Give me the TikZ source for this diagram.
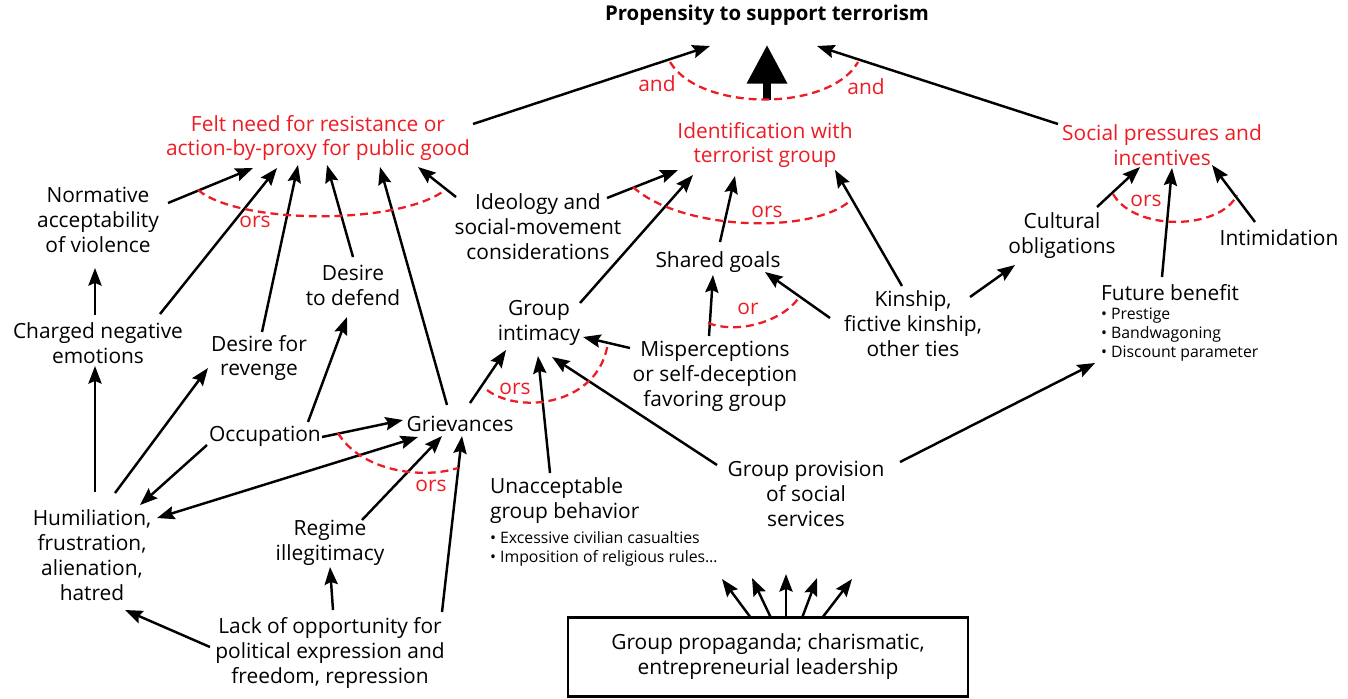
\documentclass[tikz,border=0pt]{standalone}
\usepackage{fontspec}
\setmainfont{Open Sans}
\usetikzlibrary{arrows.meta}
\usetikzlibrary{calc}
\usetikzlibrary{positioning}
\definecolor{factorred}{RGB}{237,28,36}
\tikzset{
  >={Stealth[length=10pt,width=7.5pt,inset=1.5pt]},
  txt/.style={align=center, inner sep=1pt, font=\fontsize{11.9}{14.2}\selectfont},
  factor/.style={txt, text=factorred},
  title/.style={txt, font=\fontsize{11.6}{14.2}\selectfont\bfseries},
  notes/.style={align=left, inner sep=1pt, font=\fontsize{9}{10.8}\selectfont},
  arr/.style={->, line width=1.4pt},
  bigarr/.style={-{Triangle[length=22pt,width=22pt]}, line width=4.5pt},
  orsarc/.style={factorred, line width=1.3pt, dash pattern=on 4.5pt off 2.8pt},
  orslabel/.style={txt, text=factorred, inner sep=0pt},
  propbox/.style={txt, draw, line width=1.2pt, minimum width=8cm, minimum height=1.58cm}
}
\begin{document}
\begin{tikzpicture}[x=0.02cm,y=-0.02cm]
\useasboundingbox (0,0) rectangle (1348,698);
%% outcome and the three factors
\node[title] (top) at (767,15) {Propensity to support terrorism};
\node[factor] (felt) at (318,138) {Felt need for resistance or\\action-by-proxy for public good};
\node[factor] (ident) at (765,145) {Identification with\\terrorist group};
\node[factor] (social) at (1162,145) {Social pressures and\\incentives};
%% upper row
\node[txt] (norm) at (98,220) {Normative\\acceptability\\of violence};
\node[txt] (ideol) at (538,227) {Ideology and\\social-movement\\considerations};
\node[txt] (shared) at (718,262) {Shared goals};
\node[txt] (cultural) at (1062,236) {Cultural\\obligations};
\node[txt] (intim) at (1279,238) {Intimidation};
\node[txt] (desdef) at (353,285) {Desire\\to defend};
\node[txt] (kinship) at (913,324) {Kinship,\\fictive kinship,\\other ties};
\node[txt, anchor=west] (future) at (1099,293) {Future benefit};
\node[notes, anchor=north west] (futurenotes) at ($(future.south west)+(0,3)$) {• Prestige\\• Bandwagoning\\• Discount parameter};
%% middle row
\node[txt] (charged) at (98,343) {Charged negative\\emotions};
\node[txt] (desrev) at (259,358) {Desire for\\revenge};
\node[txt] (gint) at (539,323) {Group\\intimacy};
\node[txt] (misp) at (715,376) {Misperceptions\\or self-deception\\favoring group};
\node[txt] (occ) at (265,436) {Occupation};
\node[txt] (griev) at (460,424) {Grievances};
\node[txt] (gprov) at (806,494) {Group provision\\of social\\services};
\node[txt, align=left, anchor=west] (unacc) at (488,501) {Unacceptable\\group behavior};
\node[notes, anchor=north west] (unaccnotes) at ($(unacc.south west)+(0,3)$) {• Excessive civilian casualties\\• Imposition of religious rules…};
%% lower row
\node[txt] (humil) at (92,555) {Humiliation,\\frustration,\\alienation,\\hatred};
\node[txt] (regime) at (330,543) {Regime\\illegitimacy};
\node[txt] (lack) at (330,653) {Lack of opportunity for\\political expression and\\freedom, repression};
\node[propbox] (prop) at (768,657) {Group propaganda; charismatic,\\entrepreneurial leadership};

%% into the outcome
\draw[arr] ($(felt)+(155,-14)$) -- ($(top)+(-57,31)$);
\draw[bigarr] ($(ident)+(2,-45)$) -- ($(top)+(0,30)$);
\draw[arr] ($(social)+(-104,-21)$) -- ($(top)+(50,31)$);
\draw[orsarc] (670,62) .. controls (700,112) and (830,112) .. (858,62);
\node[orslabel] (and1) at (657,84) {and};
\node[orslabel] (and2) at (866,87) {and};

%% into the felt need
\draw[arr] ($(norm)+(70,-17)$) -- ($(felt)+(-65,30)$);
\draw[arr] ($(charged)+(62,-29)$) -- ($(felt)+(-41,30)$);
\draw[arr] ($(desrev)+(3,-26)$) -- ($(felt)+(-20,27)$);
\draw[arr] ($(desdef)+(0,-28)$) -- ($(felt)+(9,27)$);
\draw[arr] ($(griev)+(-13,-19)$) -- ($(felt)+(62,29)$);
\draw[arr] ($(ideol)+(-82,-30)$) -- ($(felt)+(100,29)$);
\draw[orsarc] (198,190) .. controls (240,225) and (400,225) .. (445,190);
\node[orslabel] (ors1) at (255,222) {ors};

%% into the identification
\draw[arr] ($(ideol)+(69,-29)$) -- ($(ident)+(-87,25)$);
\draw[arr] ($(gint)+(41,-20)$) -- ($(ident)+(-72,30)$);
\draw[arr] ($(shared)+(2,-20)$) -- ($(ident)+(-30,31)$);
\draw[arr] ($(kinship)+(-11,-38)$) -- ($(ident)+(70,25)$);
\draw[orsarc] (633,187) .. controls (680,230) and (810,235) .. (850,201);
\node[orslabel] (ors2) at (767,212) {ors};

%% into the social pressures
\draw[arr] ($(cultural)+(35,-29)$) -- ($(social)+(-22,22)$);
\draw[arr] ($(future.west)+(63,-16)$) -- ($(social)+(10,23)$);
\draw[arr] ($(intim)+(-24,-16)$) -- ($(social)+(50,20)$);
\draw[orsarc] (1113,194) .. controls (1135,232) and (1220,230) .. (1237,195);
\node[orslabel] (ors3) at (1146,201) {ors};

%% shared goals, kinship
\draw[arr] ($(misp)+(-6,-40)$) -- ($(shared)+(-5,13)$);
\draw[arr] ($(kinship)+(-83,-6)$) -- ($(shared)+(47,10)$);
\draw[orsarc] (708,323) .. controls (740,335) and (785,320) .. (800,296);
\node[orslabel] (or1) at (748,309) {or};
\draw[arr] ($(kinship)+(57,-27)$) -- ($(cultural)+(-47,29)$);
\draw[arr] ($(gprov)+(94,-32)$) -- ($(future.west)+(-4,70)$);

%% into the group intimacy
\draw[arr] ($(griev)+(10,-21)$) -- ($(gint)+(-33,27)$);
\draw[arr] ($(unacc.west)+(62,-28)$) -- ($(gint)+(-1,33)$);
\draw[arr] ($(gprov)+(-89,-29)$) -- ($(gint)+(13,34)$);
\draw[arr] ($(misp)+(-85,-28)$) -- ($(gint)+(44,14)$);
\draw[orsarc] (487,390) .. controls (520,415) and (600,405) .. (608,342);
\node[orslabel] (ors4) at (515,389) {ors};

%% into the grievances
\draw[arr] ($(occ)+(57,1)$) -- ($(griev)+(-57,-4)$);
\draw[<->, line width=1.4pt] ($(humil)+(65,-37)$) -- ($(griev)+(-42,13)$);
\draw[arr] ($(regime)+(32,-23)$) -- ($(griev)+(-18,12)$);
\draw[arr] ($(lack)+(112,-41)$) -- ($(griev)+(2,12)$);
\draw[orsarc] (338,433) .. controls (360,470) and (420,480) .. (458,468);
\node[orslabel] (ors5) at (431,486) {ors};

%% occupation, humiliation, lack of opportunity
\draw[arr] ($(occ)+(43,-14)$) -- ($(desdef)+(-6,32)$);
\draw[arr] ($(occ)+(-58,9)$) -- ($(humil)+(48,-50)$);
\draw[arr] ($(humil)+(3,-63)$) -- ($(charged)+(-3,23)$);
\draw[arr] ($(humil)+(23,-62)$) -- ($(desrev)+(-51,10)$);
\draw[arr] ($(charged)+(-3,-28)$) -- ($(norm)+(-3,48)$);
\draw[arr] ($(lack)+(-120,-6)$) -- ($(humil)+(33,55)$);
\draw[arr] ($(lack)+(3,-43)$) -- ($(regime)+(0,24)$);

%% propaganda fans out
\foreach \s/\tx/\ty in {-17/-46/-78, 3/-16/-79, 18/18/-83, 34/49/-79, 54/84/-78}
  \draw[arr] ($(prop)+(\s,-39)$) -- ($(prop)+(\tx,\ty)$);
\end{tikzpicture}
\end{document}
